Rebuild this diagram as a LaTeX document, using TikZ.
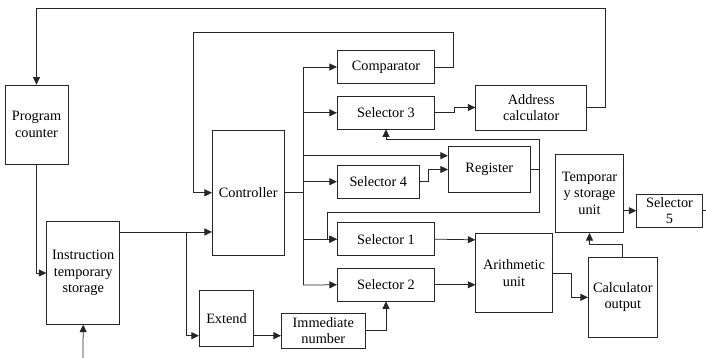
\documentclass[tikz,border=0pt]{standalone}
\usepackage{fontspec}
\setmainfont{Liberation Serif}
\usetikzlibrary{arrows.meta,calc}
\begin{document}
\begin{tikzpicture}[x=1pt,y=-1pt,
  box/.style={draw=black!85,line width=0.75pt,inner sep=0pt,align=center,
    font=\fontsize{14.3}{16.5}\selectfont},
  conn/.style={draw=black!85,line width=0.75pt},
  arr/.style={conn,-{Triangle[length=7.5pt,width=7pt]}}]
\useasboundingbox (0,0) rectangle (706,358);
% nodes
\node[box,minimum width=63pt,minimum height=79pt] (pc) at (36.5,124.5) {Program\\counter};
\node[box,minimum width=73pt,minimum height=102.6pt] (instr) at (83.2,273) {Instruction\\temporary\\storage};
\node[box,minimum width=71.7pt,minimum height=125.7pt] (ctrl) at (248.2,192.8) {Controller};
\node[box,minimum width=54.4pt,minimum height=55.7pt] (ext) at (226.5,318.2) {Extend};
\node[box,minimum width=84pt,minimum height=35pt] (imm) at (323.3,330.8) {Immediate\\number};
\node[box,minimum width=97.4pt,minimum height=32.6pt] (comp) at (386,67) {Comparator};
\node[box,minimum width=97.4pt,minimum height=32.3pt] (sel3) at (386,112.8) {Selector 3};
\node[box,minimum width=82pt,minimum height=33.3pt] (sel4) at (378.3,181.7) {Selector 4};
\node[box,minimum width=82pt,minimum height=45.6pt] (reg) at (489.3,169.5) {Register};
\node[box,minimum width=97.4pt,minimum height=33pt] (sel1) at (386,239.2) {Selector 1};
\node[box,minimum width=97.4pt,minimum height=32.3pt] (sel2) at (386,284.8) {Selector 2};
\node[box,minimum width=111pt,minimum height=45pt] (addr) at (531.2,107.5) {Address\\calculator};
\node[box,minimum width=76.6pt,minimum height=79.4pt] (arith) at (514,273) {Arithmetic\\unit};
\node[box,minimum width=69pt,minimum height=79.3pt] (calc) at (622.8,297.3) {Calculator\\output};
\node[box,minimum width=67.6pt,minimum height=78.7pt] (temp) at (589.5,193.3) {Temporar\\y storage\\unit};
\node[box,minimum width=65.6pt,minimum height=33.3pt] (sel5) at (669.5,210.7) {Selector\\5};
% coordinates
\coordinate (tr) at (605.5,8);
\coordinate (busT) at (303.3,67);
\coordinate (busB) at (303.3,285);
\coordinate (c1) at (453.3,32.3);
\coordinate (c2) at (193.3,32.3);
\coordinate (rA) at (539.3,139);
\coordinate (rB) at (539.3,212.3);
\coordinate (r3) at (327.7,212.3);
\coordinate (i1) at ([yshift=-10.6pt]instr.north east);
\coordinate (jn) at (186,232.3);
\coordinate (e1) at ([yshift=-17.5pt]ext.west);
\coordinate (e2) at ([yshift=-17.5pt]ext.east);
\coordinate (inp) at (83,358);
\coordinate (out) at (706,210.7);
\coordinate (t1) at ([yshift=-17.4pt]temp.east);
\coordinate (a1) at ([yshift=33.2pt]arith.west);
\coordinate (g1) at ([yshift=13.8pt]reg.west);
% connectors
\draw[arr] (addr.east) -| (tr) -| (pc.north);
\draw[arr] (pc.south) |- (instr.west);
\draw[arr] (inp) -- (instr.south);
\draw[arr] (i1) -- (ctrl.west |- i1);
\draw[arr] (jn) |- (e1);
\draw[arr] (e2) -- (imm.west |- e2);
\draw[arr] (imm.east) -| (sel2.south);
\draw[arr] (comp.east) -| (c1) -- (c2) |- (ctrl.west);
\draw[conn] (ctrl.east) -- (ctrl.east -| busT);
\draw[conn] (busT) -- (busB);
\draw[arr] (busT) -- (comp.west);
\draw[arr] (busT |- sel3.west) -- (sel3.west);
\draw[arr] (busT |- g1) -- (g1);
\draw[arr] (busT |- sel4.west) -- (sel4.west);
\draw[arr] (busT |- sel1.west) -- (sel1.west);
\draw[arr] (busB) -- (sel2.west);
\draw[arr] (sel4.east) -- ++(9,0) |- (reg.west);
\draw[arr] (reg.east) -| (rA) -| (sel3.south);
\draw[arr] (reg.east) -| (rB) -- (r3) |- (sel1.west);
\draw[arr] (sel3.east) -- ++(19.3,0) |- (addr.west);
\draw[arr] (sel1.east) -- (a1);
\draw[arr] (sel2.east) -- (arith.west |- sel2.east);
\draw[arr] (arith.east) -- ++(18.7,0) |- (calc.west);
\draw[arr] (calc.north) -- ++(0,-12.7) -| (temp.south);
\draw[arr] (t1) -- (sel5.west);
\draw[conn] (sel5.east) -- (out);
\end{tikzpicture}
\end{document}
